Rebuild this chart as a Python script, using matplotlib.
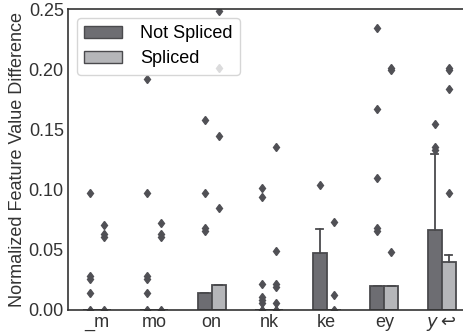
import matplotlib
matplotlib.use("Agg")
import matplotlib.pyplot as plt
from matplotlib.patches import Patch

plt.rcParams["font.family"] = ["Liberation Sans", "DejaVu Sans"]

categories = ["_m", "mo", "on", "nk", "ke", "ey", "$y\\hookleftarrow$"]
hues = ["Not Spliced", "Spliced"]

# upper quartile and upper whisker of each box (lower quartile, median, lower whisker are 0)
q3_not = [0.0, 0.0, 0.014, 0.0, 0.0476, 0.02, 0.0664]
whis_not = [0.0, 0.0, 0.014, 0.0, 0.0673, 0.02, 0.1296]
q3_spl = [0.0, 0.0, 0.0205, 0.0, 0.0, 0.02, 0.0399]
whis_spl = [0.0, 0.0, 0.0205, 0.0, 0.0, 0.02, 0.0457]

fliers_not = [
    [0.097, 0.028, 0.026, 0.0138, 0.0],
    [0.192, 0.097, 0.028, 0.026, 0.014, 0.0],
    [0.158, 0.097, 0.068, 0.066],
    [0.1016, 0.094, 0.022, 0.011, 0.008, 0.006, 0.0],
    [0.1038],
    [0.2345, 0.167, 0.1094, 0.068, 0.066],
    [0.1545, 0.135, 0.133],
]
fliers_spl = [
    [0.071, 0.063, 0.061, 0.0],
    [0.072, 0.063, 0.061, 0.0],
    [0.248, 0.2008, 0.1445, 0.0845],
    [0.1357, 0.049, 0.022, 0.0195, 0.006, 0.0],
    [0.0733, 0.0125, 0.0],
    [0.201, 0.199, 0.0484],
    [0.201, 0.199, 0.1833, 0.0974],
]

dark = "#6d6d72"
light = "#b5b6b9"
edge = "#4a4a4d"
fs = 13

fig = plt.figure(figsize=(4.63, 3.34), dpi=100)
ax = fig.add_axes([68 / 463, 24 / 334, 395 / 463, 301 / 334])


def make_stats(q3, whis, fl):
    return [dict(q1=0.0, med=0.0, q3=a, whislo=0.0, whishi=b, fliers=c)
            for a, b, c in zip(q3, whis, fl)]


n = len(categories)
for stats, off, col in [(make_stats(q3_not, whis_not, fliers_not), -0.125, dark),
                        (make_stats(q3_spl, whis_spl, fliers_spl), 0.125, light)]:
    ax.bxp(stats, positions=[i + off for i in range(n)], widths=0.245,
           patch_artist=True, manage_ticks=False,
           boxprops=dict(facecolor=col, edgecolor=edge, linewidth=1.3),
           whiskerprops=dict(color=edge, linewidth=1.3),
           capprops=dict(color=edge, linewidth=1.3),
           medianprops=dict(color=edge, linewidth=1.3),
           flierprops=dict(marker="d", markerfacecolor="#505055",
                           markeredgecolor="#505055", markersize=4.5))

ax.set_xlim(-0.5, -0.5 + 395 / 57.5)
ax.set_ylim(0, 0.25)
ax.set_xticks(range(n))
ax.set_xticklabels(categories)
ax.set_yticks([0, 0.05, 0.10, 0.15, 0.20, 0.25])
ax.set_yticklabels(["0.00", "0.05", "0.10", "0.15", "0.20", "0.25"])
ax.tick_params(length=0, labelsize=fs, colors="#333333", pad=3)
ax.set_ylabel("Normalized Feature Value Difference", fontsize=fs,
              color="#333333", labelpad=2)
for s in ["left", "bottom", "top"]:
    ax.spines[s].set_color("#333333")
    ax.spines[s].set_linewidth(1.2)
ax.spines["right"].set_visible(False)

handles = [Patch(facecolor=dark, edgecolor=edge, label=hues[0]),
           Patch(facecolor=light, edgecolor=edge, label=hues[1])]
ax.legend(handles=handles, loc="upper left", fontsize=fs, frameon=True,
          edgecolor="#cccccc", handlelength=2.1, handleheight=0.7,
          handletextpad=1.0, labelspacing=0.45, borderaxespad=0.5)

fig.savefig("out.png", dpi=100)
